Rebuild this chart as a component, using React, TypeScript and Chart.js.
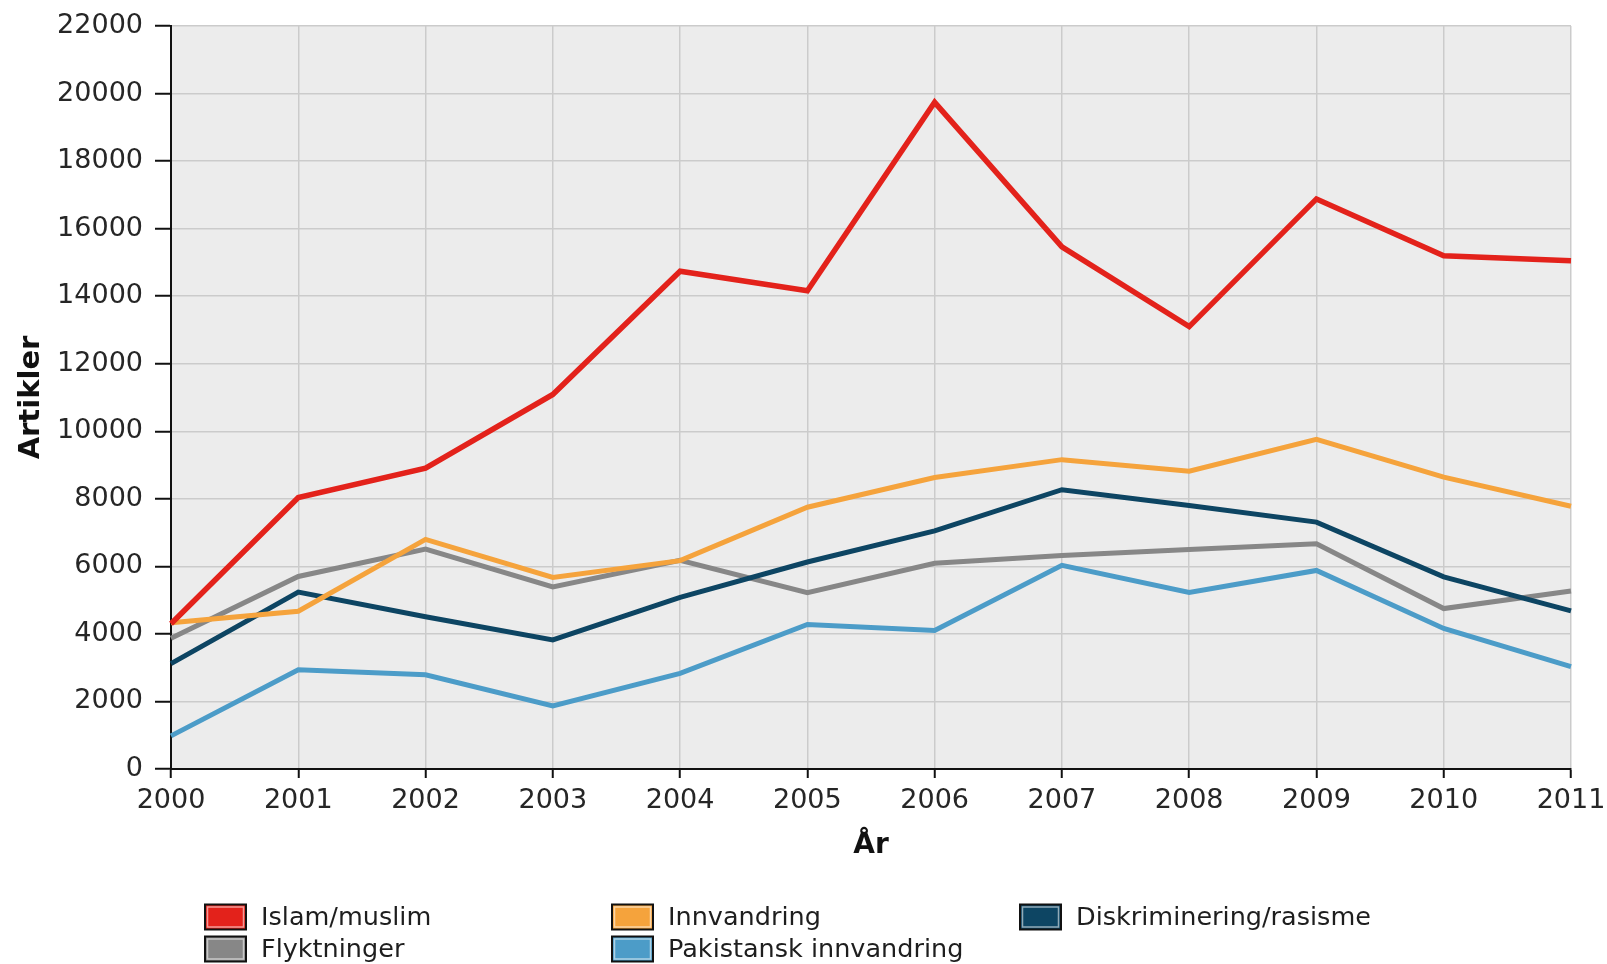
import React, { useEffect, useRef } from "react";
import { Chart, registerables } from "chart.js";

Chart.register(...registerables);

const years = ["2000", "2001", "2002", "2003", "2004", "2005", "2006", "2007", "2008", "2009", "2010", "2011"];

const islamMuslim = [4300, 8040, 8910, 11090, 14740, 14160, 19740, 15460, 13100, 16880, 15200, 15050];
const innvandring = [4330, 4670, 6800, 5670, 6170, 7750, 8630, 9160, 8820, 9760, 8640, 7780];
const diskriminering = [3120, 5240, 4510, 3820, 5080, 6130, 7050, 8270, 7800, 7310, 5690, 4680];
const flyktninger = [3870, 5700, 6510, 5390, 6180, 5220, 6090, 6320, 6500, 6670, 4750, 5270];
const pakistansk = [980, 2940, 2790, 1870, 2830, 4280, 4100, 6030, 5230, 5880, 4160, 3030];

const seriesLabels = [
  "Islam/muslim",
  "Innvandring",
  "Diskriminering/rasisme",
  "Flyktninger",
  "Pakistansk innvandring",
];
const seriesColors = ["#e3221b", "#f5a33c", "#0d4563", "#878787", "#4c9cc8"];

const yAxisTitle = "Artikler";
const xAxisTitle = "År";

const FONT = '"DejaVu Sans", "Liberation Sans", sans-serif';

const plotBackground = {
  id: "plotBackground",
  beforeDraw(chart: any) {
    const { ctx, chartArea } = chart;
    if (!chartArea) return;
    ctx.save();
    ctx.fillStyle = "#ececec";
    ctx.fillRect(chartArea.left, chartArea.top, chartArea.right - chartArea.left, chartArea.bottom - chartArea.top);
    ctx.restore();
  },
};

const gridLegend = {
  id: "gridLegend",
  afterDraw(chart: any, _args: any, opts: any) {
    const ctx = chart.ctx;
    const positions = opts.positions || [];
    ctx.save();
    chart.data.datasets.forEach((ds: any, i: number) => {
      const p = positions[i];
      if (!p) return;
      const bw = 41;
      const bh = 25;
      const bx = p.x;
      const by = p.y - bh / 2;
      ctx.fillStyle = ds.borderColor;
      ctx.fillRect(bx, by, bw, bh);
      ctx.strokeStyle = "rgba(255,255,255,0.55)";
      ctx.lineWidth = 1.5;
      ctx.strokeRect(bx + 2.5, by + 2.5, bw - 5, bh - 5);
      ctx.strokeStyle = "#111";
      ctx.lineWidth = 2;
      ctx.strokeRect(bx, by, bw, bh);
      ctx.fillStyle = "#1e1e1e";
      ctx.font = `25.5px ${FONT}`;
      ctx.textBaseline = "middle";
      ctx.textAlign = "left";
      ctx.fillText(ds.label, bx + 56, p.y + 1);
    });
    ctx.restore();
  },
};

export default function App() {
  const canvasRef = useRef<HTMLCanvasElement | null>(null);

  useEffect(() => {
    if (!canvasRef.current) return;
    const allSeries = [islamMuslim, innvandring, diskriminering, flyktninger, pakistansk];
    const chart = new Chart(canvasRef.current, {
      type: "line",
      data: {
        labels: years,
        datasets: allSeries.map((vals, i) => ({
          label: seriesLabels[i],
          data: vals,
          borderColor: seriesColors[i],
          backgroundColor: seriesColors[i],
          borderWidth: i === 0 ? 5.5 : 5,
          pointRadius: 0,
          tension: 0,
          fill: false,
        })),
      },
      options: {
        responsive: false,
        animation: false,
        layout: { padding: { left: 0, top: 26, right: 36, bottom: 95 } },
        plugins: {
          legend: { display: false },
          tooltip: { enabled: false },
          gridLegend: {
            positions: [
              { x: 205, y: 917 },
              { x: 612, y: 917 },
              { x: 1020, y: 917 },
              { x: 205, y: 949 },
              { x: 612, y: 949 },
            ],
          },
        } as any,
        scales: {
          x: {
            type: "category",
            offset: false,
            afterFit: (scale: any) => {
              scale.height = 100;
              scale.paddingLeft = 0;
              scale.paddingRight = 0;
            },
            grid: {
              color: "#cbcbcb",
              lineWidth: 1.5,
              tickLength: 9,
              tickColor: "#111",
              tickWidth: 2,
            },
            border: { display: true, color: "#111", width: 2 },
            ticks: {
              color: "#262626",
              font: { family: FONT, size: 27 },
              padding: 7,
              maxRotation: 0,
              autoSkip: false,
            },
            title: {
              display: true,
              text: xAxisTitle,
              color: "#111",
              font: { family: FONT, size: 28, weight: "bold" },
              padding: { top: 0, bottom: 6 },
            },
          },
          y: {
            min: 0,
            max: 22000,
            afterFit: (scale: any) => {
              scale.width = 171;
              scale.paddingTop = 0;
              scale.paddingBottom = 0;
            },
            grid: {
              color: "#cbcbcb",
              lineWidth: 1.5,
              tickLength: 16,
              tickColor: "#111",
              tickWidth: 2,
            },
            border: { display: true, color: "#111", width: 2 },
            ticks: {
              stepSize: 2000,
              color: "#262626",
              font: { family: FONT, size: 27 },
              padding: 12,
              callback: (v: any) => String(v),
            },
            title: {
              display: true,
              text: yAxisTitle,
              color: "#111",
              font: { family: FONT, size: 29, weight: "bold" },
              padding: { top: 14, bottom: 0 },
            },
          },
        },
      },
      plugins: [plotBackground, gridLegend],
    });
    return () => chart.destroy();
  }, []);

  return (
    <div style={{ position: "absolute", left: 0, top: 0, width: 1607, height: 964, background: "#fff", overflow: "hidden" }}>
      <canvas ref={canvasRef} width={1607} height={964} style={{ display: "block" }} />
    </div>
  );
}
